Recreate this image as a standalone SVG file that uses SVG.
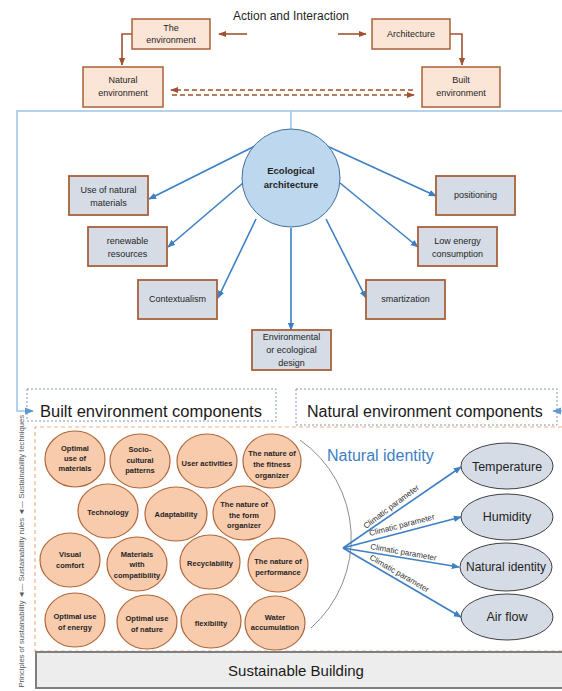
<svg xmlns="http://www.w3.org/2000/svg" width="562" height="691" viewBox="0 0 562 691">
<defs>
<style>
text{font-family:"Liberation Sans",Arial,sans-serif;fill:#1f1f1f}
.bt{font-size:9px;text-anchor:middle}
.ct{font-size:7.5px;font-weight:bold;text-anchor:middle}
.peach{fill:#fbe5d6;stroke:#a8613a;stroke-width:1.5}
.gbox{fill:#d6dce5;stroke:#a8613a;stroke-width:1.8}
.orb{fill:#f8cbad;stroke:#b0683a;stroke-width:1.2}
.ell{fill:#d6dce5;stroke:#404040;stroke-width:1}
.br{fill:none;stroke:#a0522d;stroke-width:1.6}
.bl{fill:none;stroke:#3d7fc4;stroke-width:1.6}
.frame{fill:none;stroke:#9dc3e6;stroke-width:1.5}
.dbox{fill:none;stroke:#8497b0;stroke-width:1;stroke-dasharray:2 2}
.lbl{font-size:8px;fill:#333333}
.big{font-size:16.5px;fill:#1a1a1a}
</style>
<marker id="ab" viewBox="0 0 10 10" refX="9" refY="5" markerWidth="5" markerHeight="5" orient="auto-start-reverse"><path d="M0,1 L10,5 L0,9 z" fill="#a0522d"/></marker>
<marker id="abl" viewBox="0 0 10 10" refX="9" refY="5" markerWidth="5" markerHeight="5" orient="auto-start-reverse"><path d="M0,1 L10,5 L0,9 z" fill="#3d7fc4"/></marker>
<marker id="afr" viewBox="0 0 10 10" refX="9" refY="5" markerWidth="6" markerHeight="6" orient="auto-start-reverse"><path d="M0,1 L10,5 L0,9 z" fill="#5b9bd5"/></marker>
</defs>

<rect width="562" height="691" fill="#ffffff"/>

<g id="connectors">
  <path class="br" d="M247,34 L219,34" marker-end="url(#ab)"/>
  <path class="br" d="M338,34 L366,34" marker-end="url(#ab)"/>
  <path class="br" d="M132,34 L122,34 L122,65" marker-end="url(#ab)"/>
  <path class="br" d="M450,34 L462,34 L462,65" marker-end="url(#ab)"/>
  <path class="br" d="M413,90 L171,90" stroke-dasharray="5 3" stroke-width="2" marker-end="url(#ab)"/>
  <path class="br" d="M172,95 L414,95" stroke-dasharray="5 3" stroke-width="2" marker-end="url(#ab)"/>
  <path class="frame" d="M562,111 L17,111 L17,411 L33,411" marker-end="url(#afr)"/>
  <path class="frame" d="M291,111 L291,129"/>
  <path class="frame" d="M562,411 L553,411" marker-end="url(#afr)"/>
  <path class="bl" d="M255,146 L149,199" marker-end="url(#abl)"/>
  <path class="bl" d="M243,183 L168,247" marker-end="url(#abl)"/>
  <path class="bl" d="M256,219 L218,298" marker-end="url(#abl)"/>
  <path class="bl" d="M291,228 L291,330" marker-end="url(#abl)"/>
  <path class="bl" d="M326,219 L366,298" marker-end="url(#abl)"/>
  <path class="bl" d="M340,183 L418,247" marker-end="url(#abl)"/>
  <path class="bl" d="M327,146 L436,196" marker-end="url(#abl)"/>
  <path d="M300,440 A120,120 0 0 1 311,628" fill="none" stroke="#8c8c8c" stroke-width="1"/>
  <path class="bl" d="M343,548 L461,467" marker-end="url(#abl)"/>
  <path class="bl" d="M343,548 L461,517" marker-end="url(#abl)"/>
  <path class="bl" d="M343,548 L459,567" marker-end="url(#abl)"/>
  <path class="bl" d="M343,548 L461,617" marker-end="url(#abl)"/>
  <text class="lbl" transform="translate(366,529) rotate(-37)">Climatic parameter</text>
  <text class="lbl" transform="translate(370,536) rotate(-14.5)">Climatic parameter</text>
  <text class="lbl" transform="translate(370,549) rotate(10)">Climatic parameter</text>
  <text class="lbl" transform="translate(369,559) rotate(30)">Climatic parameter</text>
</g>

<text x="291" y="20" text-anchor="middle" style="font-size:12px">Action and Interaction</text>

<g id="n-environment"><rect class="peach" x="132" y="19" width="78" height="30"/><text class="bt" x="171" y="31">The</text><text class="bt" x="171" y="43">environment</text></g>
<g id="n-architecture"><rect class="peach" x="372" y="19" width="78" height="30"/><text class="bt" x="411" y="37">Architecture</text></g>
<g id="n-natural"><rect class="peach" x="83" y="67" width="80" height="40"/><text class="bt" x="123" y="83">Natural</text><text class="bt" x="123" y="96">environment</text></g>
<g id="n-built"><rect class="peach" x="422" y="67" width="78" height="40"/><text class="bt" x="461" y="83">Built</text><text class="bt" x="461" y="96">environment</text></g>

<g id="n-ecological"><circle cx="291" cy="178" r="49" fill="#bdd7ee" stroke="#41719c" stroke-width="1"/><text class="bt" x="291" y="174" font-weight="bold" style="font-size:9.5px">Ecological</text><text class="bt" x="291" y="188" font-weight="bold" style="font-size:9.5px">architecture</text></g>

<g id="n-usenatural"><rect class="gbox" x="69" y="176" width="79" height="39"/><text class="bt" x="108.5" y="193">Use of natural</text><text class="bt" x="108.5" y="206">materials</text></g>
<g id="n-renewable"><rect class="gbox" x="88" y="227" width="79" height="39"/><text class="bt" x="127.5" y="244">renewable</text><text class="bt" x="127.5" y="257">resources</text></g>
<g id="n-contextualism"><rect class="gbox" x="138" y="280" width="79" height="39"/><text class="bt" x="177.5" y="302">Contextualism</text></g>
<g id="n-envdesign"><rect class="gbox" x="252" y="330" width="79" height="40"/><text class="bt" x="291.5" y="340">Environmental</text><text class="bt" x="291.5" y="353">or ecological</text><text class="bt" x="291.5" y="366">design</text></g>
<g id="n-smartization"><rect class="gbox" x="366" y="280" width="79" height="39"/><text class="bt" x="405.5" y="302">smartization</text></g>
<g id="n-lowenergy"><rect class="gbox" x="418" y="227" width="79" height="39"/><text class="bt" x="457.5" y="244">Low energy</text><text class="bt" x="457.5" y="257">consumption</text></g>
<g id="n-positioning"><rect class="gbox" x="436" y="176" width="79" height="39"/><text class="bt" x="475.5" y="198">positioning</text></g>

<g id="n-builtcomp"><rect class="dbox" x="27" y="389" width="249" height="32"/><text class="big" x="40" y="417">Built environment components</text></g>
<g id="n-naturalcomp"><rect class="dbox" x="296" y="389" width="261" height="36"/><text class="big" x="307" y="417" style="font-size:16px">Natural environment components</text></g>

<path d="M562,427 L35,427 L35,651 L562,651" fill="none" stroke="#f4b183" stroke-width="1.2" stroke-dasharray="4 3"/>

<g id="n-sustainable"><rect x="36" y="652" width="530" height="36" fill="#ededed" stroke="#7f7f7f" stroke-width="2"/><text x="296" y="676" text-anchor="middle" style="font-size:15px;fill:#1a1a1a">Sustainable  Building</text></g>

<text transform="translate(24,415) rotate(-90)" text-anchor="end" style="font-size:7.6px;fill:#595959">Principles of sustainability ◄— Sustainability rules ◄— Sustainability techniques</text>

<g id="c-optmat"><ellipse class="orb" cx="75" cy="459" rx="30" ry="28"/><text class="ct" x="75" y="451">Optimal</text><text class="ct" x="75" y="461">use of</text><text class="ct" x="75" y="471">materials</text></g>
<g id="c-socio"><ellipse class="orb" cx="140" cy="461" rx="30" ry="27"/><text class="ct" x="140" y="452">Socio-</text><text class="ct" x="140" y="463">cultural</text><text class="ct" x="140" y="473">patterns</text></g>
<g id="c-user"><ellipse class="orb" cx="207" cy="461" rx="30" ry="27"/><text class="ct" x="207" y="466">User activities</text></g>
<g id="c-fitness"><ellipse class="orb" cx="272" cy="461" rx="29" ry="27"/><text class="ct" x="272" y="456">The nature of</text><text class="ct" x="272" y="467">the fitness</text><text class="ct" x="272" y="478">organizer</text></g>
<g id="c-tech"><ellipse class="orb" cx="108" cy="511" rx="30" ry="27"/><text class="ct" x="108" y="515">Technology</text></g>
<g id="c-adapt"><ellipse class="orb" cx="176" cy="514" rx="31" ry="27"/><text class="ct" x="176" y="517">Adaptability</text></g>
<g id="c-form"><ellipse class="orb" cx="244" cy="513" rx="31" ry="27"/><text class="ct" x="244" y="507">The nature of</text><text class="ct" x="244" y="518">the form</text><text class="ct" x="244" y="528">organizer</text></g>
<g id="c-visual"><ellipse class="orb" cx="70" cy="560" rx="30" ry="27"/><text class="ct" x="70" y="557">Visual</text><text class="ct" x="70" y="568">comfort</text></g>
<g id="c-materials"><ellipse class="orb" cx="137" cy="564" rx="30" ry="27"/><text class="ct" x="137" y="557">Materials</text><text class="ct" x="137" y="567">with</text><text class="ct" x="137" y="578">compatibility</text></g>
<g id="c-recycle"><ellipse class="orb" cx="210" cy="562" rx="30" ry="27"/><text class="ct" x="210" y="566">Recyclability</text></g>
<g id="c-perf"><ellipse class="orb" cx="278" cy="565" rx="30" ry="27"/><text class="ct" x="278" y="564">The nature of</text><text class="ct" x="278" y="575">performance</text></g>
<g id="c-energy"><ellipse class="orb" cx="75" cy="620" rx="30" ry="27"/><text class="ct" x="75" y="619">Optimal use</text><text class="ct" x="75" y="630">of energy</text></g>
<g id="c-nature"><ellipse class="orb" cx="147" cy="622" rx="30" ry="27"/><text class="ct" x="147" y="621">Optimal use</text><text class="ct" x="147" y="632">of nature</text></g>
<g id="c-flex"><ellipse class="orb" cx="211" cy="621" rx="30" ry="27"/><text class="ct" x="211" y="626">flexibility</text></g>
<g id="c-water"><ellipse class="orb" cx="275" cy="623" rx="30" ry="27"/><text class="ct" x="275" y="620">Water</text><text class="ct" x="275" y="630">accumulation</text></g>

<text x="327" y="461" style="font-size:16px;fill:#3d7fc4">Natural identity</text>

<g id="e-temp"><ellipse class="ell" cx="507" cy="466" rx="46" ry="23"/><text x="507" y="471" text-anchor="middle" style="font-size:12.5px">Temperature</text></g>
<g id="e-hum"><ellipse class="ell" cx="507" cy="517" rx="46" ry="23"/><text x="507" y="521" text-anchor="middle" style="font-size:12.5px">Humidity</text></g>
<g id="e-natid"><ellipse class="ell" cx="506" cy="567" rx="46" ry="24"/><text x="506" y="571" text-anchor="middle" style="font-size:12px">Natural identity</text></g>
<g id="e-air"><ellipse class="ell" cx="507" cy="617" rx="46" ry="23"/><text x="507" y="621" text-anchor="middle" style="font-size:12.5px">Air flow</text></g>
</svg>
